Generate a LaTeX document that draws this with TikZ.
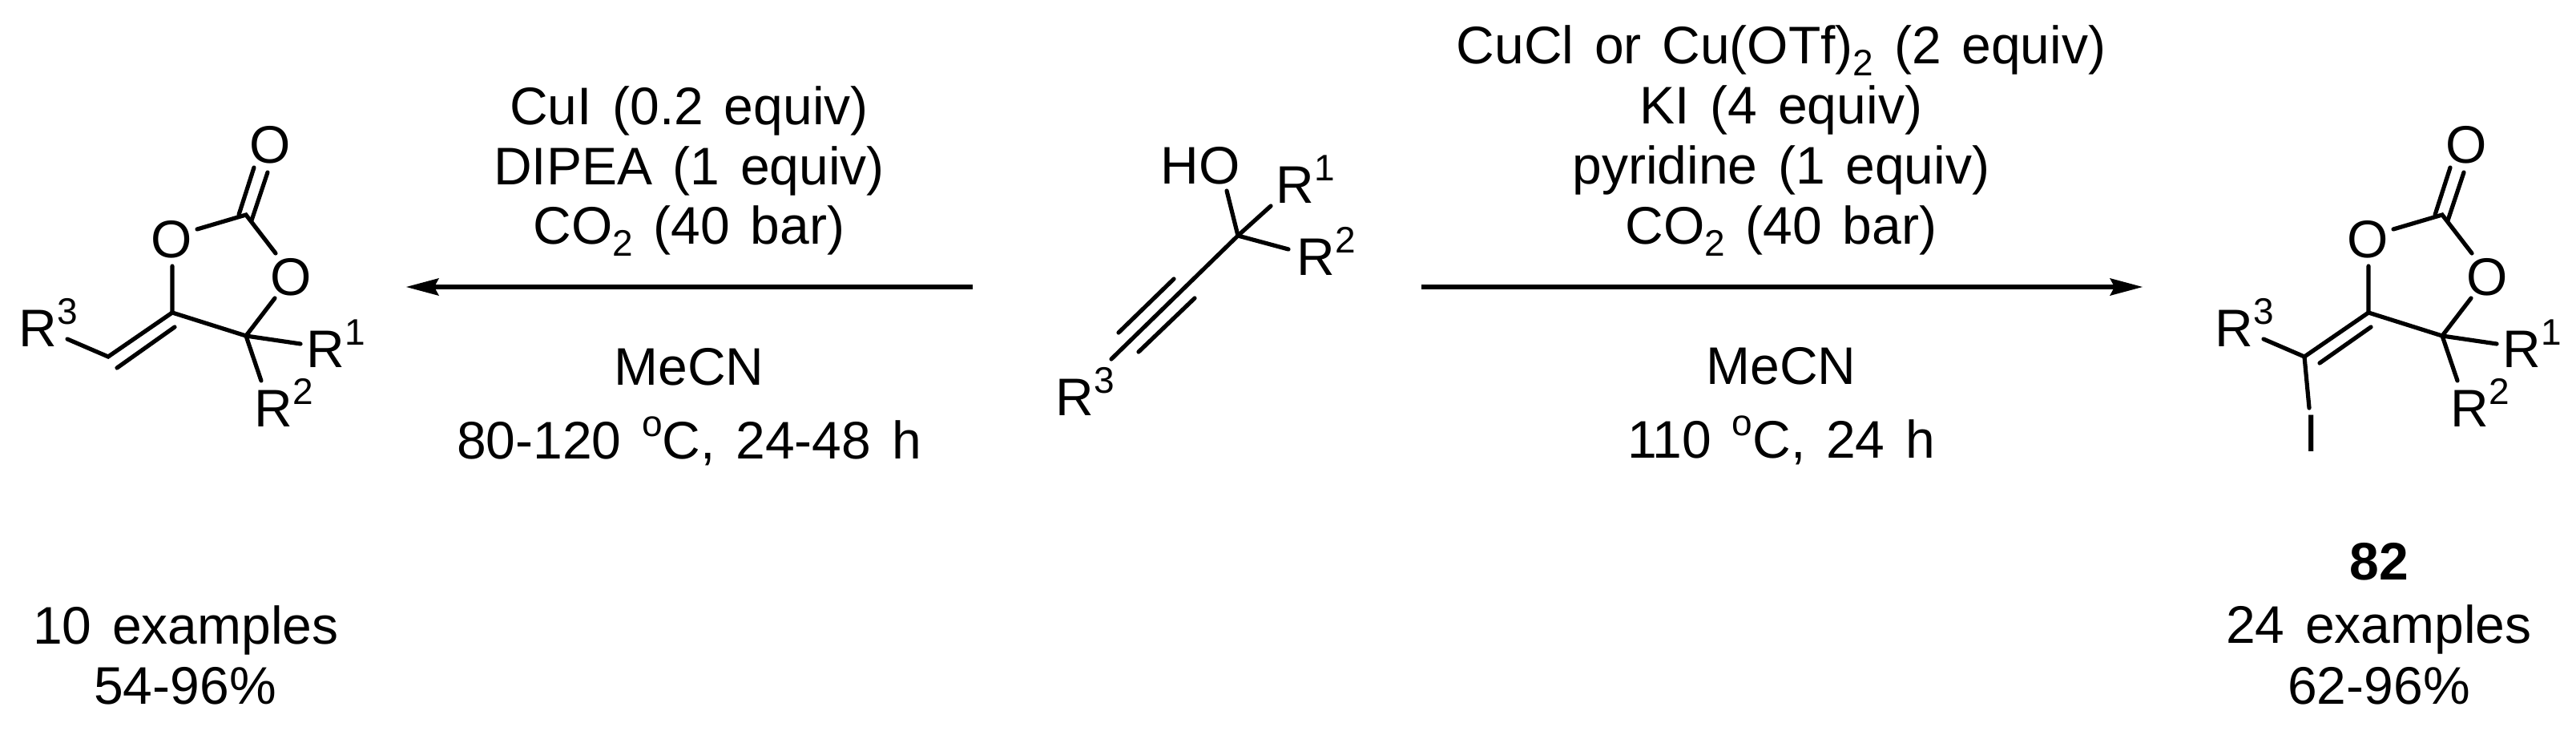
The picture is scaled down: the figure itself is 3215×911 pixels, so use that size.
\documentclass[tikz,border=0pt]{standalone}
\usepackage{fontspec}
\setmainfont[WordSpace=1.4]{Liberation Sans}
\usetikzlibrary{arrows.meta}

\newcommand{\sps}[1]{\raisebox{14pt}{\fontsize{23}{23}\selectfont #1}}
\newcommand{\sbs}[1]{\raisebox{-7.5pt}{\fontsize{23}{23}\selectfont #1}}

\tikzset{
	bond/.style={line width=2.6pt, line cap=round},
	rxnarrow/.style={line width=2.6pt, -{Stealth[length=20.5pt, width=11pt, inset=3pt, line width=0pt]}},
	txt/.style={anchor=base, inner sep=0pt, font=\fontsize{33}{39}\selectfont},
	lbl/.style={txt, anchor=base west},
}

\begin{document}
\begin{tikzpicture}[x=0.5pt, y=-0.5pt]
	\useasboundingbox (0,0) rectangle (3215,911);
	% the two carbonates
	\foreach \mol/\dx/\ex/\ey in {a/0/146/459, b/2741/154/453} {
		\begin{scope}[xshift=\dx*0.5pt]
			\coordinate (\mol CO) at (307,268);
			\coordinate (\mol C4) at (215,390);
			\coordinate (\mol C5) at (307,419);
			\coordinate (\mol CH) at (135,445);
			\coordinate (\mol Aa) at (298,268);
			\coordinate (\mol Ab) at (317,209);
			\coordinate (\mol Ba) at (314,275);
			\coordinate (\mol Bb) at (334,215);
			\coordinate (\mol Oa) at (246,286);
			\coordinate (\mol Ob) at (344,316);
			\coordinate (\mol Oc) at (215,332);
			\coordinate (\mol Od) at (343,372);
			\coordinate (\mol Ra) at (375,429);
			\coordinate (\mol Rb) at (326,475);
			\coordinate (\mol Rc) at (84,423);
			\coordinate (\mol Da) at (218,408);
			\coordinate (\mol Db) at (\ex,\ey);
			\draw [bond] (\mol Aa) -- (\mol Ab);
			\draw [bond] (\mol Ba) -- (\mol Bb);
			\draw [bond] (\mol Oa) -- (\mol CO) -- (\mol Ob);
			\draw [bond] (\mol Oc) -- (\mol C4) -- (\mol C5) -- (\mol Od);
			\draw [bond] (\mol C5) -- (\mol Ra);
			\draw [bond] (\mol C5) -- (\mol Rb);
			\draw [bond] (\mol C4) -- (\mol CH) -- (\mol Rc);
			\draw [bond] (\mol Da) -- (\mol Db);
			\path (337,203) node [txt] (\mol Otop) {O};
			\path (214,321) node [txt] (\mol Oleft) {O};
			\path (363,368) node [txt] (\mol Oright) {O};
			\path (382,458) node [lbl] (\mol Rone) {R\sps{1}};
			\path (317,532) node [lbl] (\mol Rtwo) {R\sps{2}};
			\path (23,432) node [lbl] (\mol Rthree) {R\sps{3}};
		\end{scope}
	}
	\coordinate (bI) at (2882,509);
	\draw [bond] (bCH) -- (bI);
	\path (2885,563) node [txt] (iodo) {I};
	% the propargylic alcohol
	\coordinate (mC) at (1545,294);
	\coordinate (mOH) at (1531,238);
	\coordinate (mRa) at (1586,257);
	\coordinate (mRb) at (1608,311);
	\coordinate (mRc) at (1387,448);
	\coordinate (mAa) at (1465,348);
	\coordinate (mAb) at (1396,415);
	\coordinate (mBa) at (1491,372);
	\coordinate (mBb) at (1421,439);
	\draw [bond] (mC) -- (mOH);
	\draw [bond] (mC) -- (mRa);
	\draw [bond] (mC) -- (mRb);
	\draw [bond] (mC) -- (mRc);
	\draw [bond] (mAa) -- (mAb);
	\draw [bond] (mBa) -- (mBb);
	\path (1448,229) node [lbl] (mHO) {HO};
	\path (1592,253) node [lbl] (mRone) {R\sps{1}};
	\path (1618,343) node [lbl] (mRtwo) {R\sps{2}};
	\path (1317,518) node [lbl] (mRthree) {R\sps{3}};
	% arrows
	\coordinate (lA) at (1214,358);
	\coordinate (lB) at (507,358);
	\coordinate (rA) at (1774,358);
	\coordinate (rB) at (2674,358);
	\draw [rxnarrow] (lA) -- (lB);
	\draw [rxnarrow] (rA) -- (rB);
	% conditions
	\path (860,155) node [txt] (lcA) {CuI (0.2 equiv)};
	\path (860,230) node [txt] (lcB) {DIPEA (1 equiv)};
	\path (860,304) node [txt] (lcC) {CO\sbs{2} (40 bar)};
	\path (860,480) node [txt] (lcD) {MeCN};
	\path (860,572) node [txt] (lcE) {80-120 \sps{o}C, 24-48 h};
	\path (2223,79) node [txt] (rcA) {CuCl or Cu(OTf)\sbs{2} (2 equiv)};
	\path (2223,154) node [txt] (rcB) {KI (4 equiv)};
	\path (2223,229) node [txt] (rcC) {pyridine (1 equiv)};
	\path (2223,304) node [txt] (rcD) {CO\sbs{2} (40 bar)};
	\path (2223,479) node [txt] (rcE) {MeCN};
	\path (2223,571) node [txt] (rcF) {110 \sps{o}C, 24 h};
	% yields
	\path (232,803) node [txt] (lyA) {10 examples};
	\path (231,878) node [txt] (lyB) {54-96\%};
	\path (2969,723) node [txt] (ryA) {\bfseries 82};
	\path (2969,802) node [txt] (ryB) {24 examples};
	\path (2969,878) node [txt] (ryC) {62-96\%};
\end{tikzpicture}
\end{document}
